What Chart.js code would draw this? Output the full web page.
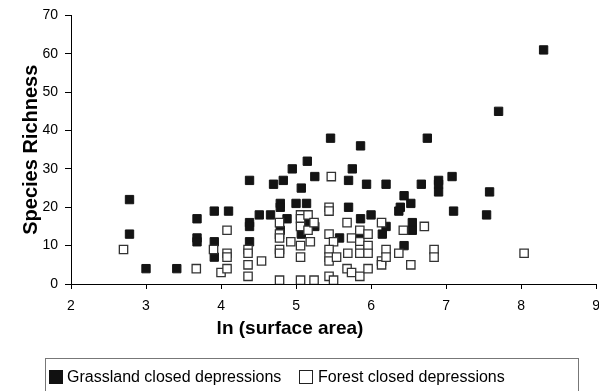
<!DOCTYPE html>
<html>
<head>
<meta charset="utf-8">
<script src="https://cdn.jsdelivr.net/npm/chart.js@4/dist/chart.umd.min.js"></script>
<style>
    body { margin: 0; overflow: hidden; background: #fff; }
</style>
</head>
<body>
<canvas id="myChart" width="609" height="400"></canvas>
<script>
// Grassland closed depressions (quadrados pretos)
var grassX = [2.78, 2.78, 3.0, 3.41, 3.68, 3.68, 3.68, 3.91, 4.1, 3.91, 3.91,
    4.38, 4.38, 4.38, 4.38, 4.51, 4.66, 4.70, 4.83, 4.79, 4.79, 4.88, 4.79,
    4.95, 5.0, 5.07, 5.15, 5.14, 5.07, 5.14, 5.25, 5.25,
    5.46, 5.86, 5.75, 5.70, 5.94, 5.70, 5.86, 5.58, 5.85, 6.0,
    6.2, 6.67, 6.44, 6.53, 6.39, 6.37, 6.55, 6.55, 6.2, 6.15, 6.44,
    6.75, 6.9, 6.9, 6.9, 7.08, 7.58, 7.1, 7.54, 7.7, 8.3]
var grassY = [22, 13, 4, 4, 17, 12, 11, 19, 19, 11, 7,
    27, 16, 15, 11, 18, 18, 26, 27, 21, 20, 17, 14,
    30, 21, 25, 32, 21, 13, 16, 28, 15,
    38, 36, 30, 27, 26, 20, 17, 12, 13, 18,
    26, 26, 23, 21, 20, 19, 16, 14, 15, 13, 10,
    38, 27, 26, 24, 28, 24, 19, 18, 45, 61]

// Forest closed depressions (quadrados brancos)
var forestX = [2.7, 3.67, 3.9, 4.08, 4.08, 4.08, 4.0, 4.08,
    4.36, 4.36, 4.36, 4.36, 4.54, 4.78, 4.78, 4.78, 4.78, 4.78, 4.78, 4.93,
    5.06, 5.06, 5.06, 5.06, 5.06, 5.06, 5.16, 5.16, 5.24, 5.19, 5.24,
    5.47, 5.44, 5.44, 5.44, 5.50, 5.44, 5.44, 5.44, 5.54, 5.44, 5.50,
    5.68, 5.69, 5.74, 5.68, 5.74, 5.85, 5.85, 5.85, 5.85, 5.85,
    5.96, 5.96, 5.96, 5.96, 6.14, 6.14, 6.14, 6.43, 6.71, 6.2, 6.2, 6.37, 6.53, 6.84, 6.84, 8.04]
var forestY = [9, 4, 9, 14, 8, 7, 3, 4,
    9, 8, 5, 2, 6, 16, 13, 12, 9, 8, 1, 11,
    18, 17, 15, 10, 7, 1, 18, 14, 16, 11, 1,
    28, 20, 19, 13, 11, 9, 7, 6, 7, 2, 1,
    16, 8, 12, 4, 3, 14, 11, 9, 8, 2,
    13, 10, 8, 4, 16, 6, 5, 14, 15, 9, 7, 8, 5, 9, 7, 8]

var legendas = ['Grassland closed depressions', 'Forest closed depressions']
var tituloX = 'ln (surface area)'
var tituloY = 'Species Richness'

var fonte = '"Liberation Sans", Arial, Helvetica, sans-serif'

function montarPontos(xs, ys) {
    var pontos = []
    for (var i = 0; i < xs.length; i++) {
        pontos.push({ x: xs[i], y: ys[i] })
    }
    return pontos
}

// titulo do eixo x e legenda com borda, desenhados a mao
const extras = {
    id: 'extras',
    afterDraw(chart) {
        const ctx = chart.ctx
        ctx.save()
        ctx.fillStyle = '#000'
        ctx.font = 'bold 19px ' + fonte
        ctx.textAlign = 'center'
        ctx.textBaseline = 'middle'
        ctx.fillText(tituloX, 290, 329)

        ctx.strokeStyle = '#777'
        ctx.lineWidth = 1
        ctx.strokeRect(45.5, 358.5, 533, 60)

        ctx.font = '16px ' + fonte
        ctx.textAlign = 'left'
        // item 1
        ctx.fillStyle = '#111'
        ctx.fillRect(49, 370, 14, 14)
        ctx.fillStyle = '#000'
        ctx.fillText(legendas[0], 67, 378)
        // item 2
        ctx.fillStyle = '#fff'
        ctx.strokeStyle = '#222'
        ctx.fillRect(299, 370, 14, 14)
        ctx.strokeRect(299.5, 370.5, 13, 13)
        ctx.fillStyle = '#000'
        ctx.fillText(legendas[1], 318, 378)
        ctx.restore()
    }
}

const data = {
    datasets: [
        {
            label: legendas[0],
            data: montarPontos(grassX, grassY),
            pointStyle: 'rect',
            pointRadius: 5.9,
            pointBackgroundColor: '#141414',
            pointBorderColor: '#141414',
            pointBorderWidth: 1,
            order: 1
        },
        {
            label: legendas[1],
            data: montarPontos(forestX, forestY),
            pointStyle: 'rect',
            pointRadius: 5.9,
            pointBackgroundColor: '#fff',
            pointBorderColor: '#333',
            pointBorderWidth: 1.3,
            order: 0
        }
    ]
}

const config = {
    type: 'scatter',
    data: data,
    options: {
        responsive: false,
        animation: false,
        layout: {
            padding: { top: 9, right: 9, bottom: 54, left: 0 }
        },
        plugins: {
            legend: { display: false },
            tooltip: { enabled: false }
        },
        scales: {
            x: {
                type: 'linear',
                min: 2,
                max: 9,
                ticks: {
                    stepSize: 1,
                    color: '#000',
                    padding: 9,
                    font: { size: 14, family: fonte }
                },
                grid: { drawOnChartArea: false, tickLength: 5, color: '#000' },
                border: { color: '#000', width: 1 },
                afterFit: function (scale) { scale.height = 62 }
            },
            y: {
                min: 0,
                max: 70,
                ticks: {
                    stepSize: 10,
                    color: '#000',
                    padding: 7,
                    font: { size: 14, family: fonte }
                },
                grid: { drawOnChartArea: false, tickLength: 6, color: '#000' },
                border: { color: '#000', width: 1 },
                title: {
                    display: true,
                    text: tituloY,
                    color: '#000',
                    padding: { top: 19, bottom: 0 },
                    font: { size: 20, weight: 'bold', family: fonte }
                },
                afterFit: function (scale) { scale.width = 71 }
            }
        }
    },
    plugins: [extras]
}

const myChart = new Chart(
    document.getElementById('myChart'),
    config
)
</script>
</body>
</html>
